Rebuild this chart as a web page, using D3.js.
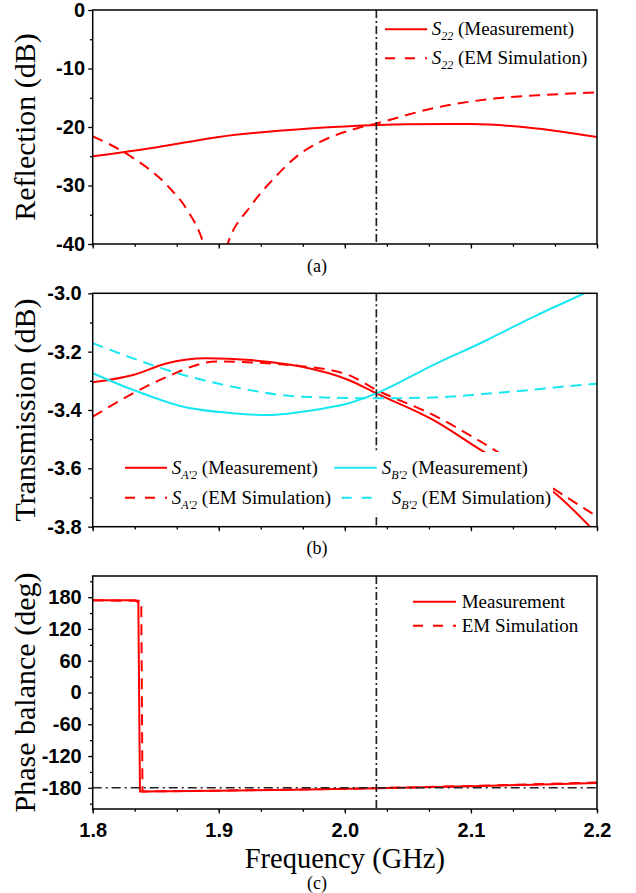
<!DOCTYPE html>
<html>
<head>
<meta charset="utf-8">
<script src="https://cdn.jsdelivr.net/npm/d3@7"></script>
<style>
body { margin: 0; background: #fff; }
</style>
</head>
<body>
<div id="chart"></div>
<script>
// frequency axis (GHz)
var xTicks = [1.8, 1.9, 2.0, 2.1, 2.2];
var xTickLabels = ["1.8", "1.9", "2.0", "2.1", "2.2"];
var markerFreq = 2.025;

// (a) reflection, dB
var reflTicks = [0, -10, -20, -30, -40];
var reflTickLabels = ["0", "-10", "-20", "-30", "-40"];
var s22MeasFreq = [1.80, 1.85, 1.90, 1.95, 2.00, 2.05, 2.10, 2.15, 2.20];
var s22Meas = [-25.0, -23.5, -21.7, -20.6, -19.9, -19.55, -19.5, -20.2, -21.7];
var s22SimFreq = [1.80, 1.83, 1.86, 1.875, 1.888, 1.897, 1.907, 1.925, 1.945, 1.965, 1.98, 2.01, 2.025, 2.07, 2.12, 2.16, 2.20];
var s22Sim = [-21.6, -25.0, -30.2, -34.2, -40, -48, -40, -33.6, -28.5, -24.5, -22.6, -20.2, -19.4, -16.8, -15.1, -14.5, -14.1];

// (b) transmission, dB
var transTicks = [-3.0, -3.2, -3.4, -3.6, -3.8];
var transTickLabels = ["-3.0", "-3.2", "-3.4", "-3.6", "-3.8"];
var sa2MeasFreq = [1.80, 1.832, 1.859, 1.89, 1.925, 1.964, 2.003, 2.025, 2.07, 2.11, 2.167, 2.20];
var sa2Meas = [-3.305, -3.28, -3.24, -3.223, -3.229, -3.25, -3.297, -3.343, -3.434, -3.543, -3.686, -3.825];
var sa2SimFreq = [1.80, 1.832, 1.859, 1.898, 1.964, 2.003, 2.025, 2.07, 2.11, 2.167, 2.196, 2.20];
var sa2Sim = [-3.423, -3.343, -3.286, -3.234, -3.249, -3.28, -3.331, -3.417, -3.514, -3.674, -3.754, -3.765];
var sb2MeasFreq = [1.80, 1.832, 1.872, 1.911, 1.938, 1.977, 2.003, 2.025, 2.07, 2.11, 2.15, 2.19, 2.20];
var sb2Meas = [-3.274, -3.331, -3.389, -3.411, -3.417, -3.399, -3.377, -3.343, -3.246, -3.166, -3.08, -3.0, -2.98];
var sb2SimFreq = [1.80, 1.832, 1.872, 1.911, 1.964, 2.025, 2.07, 2.122, 2.194, 2.20];
var sb2Sim = [-3.171, -3.223, -3.28, -3.32, -3.354, -3.36, -3.357, -3.341, -3.312, -3.31];

// (c) phase balance, deg
var phaseTicks = [180, 120, 60, 0, -60, -120, -180];
var phaseTickLabels = ["180", "120", "60", "0", "-60", "-120", "-180"];
var phaseRef = -180;
var phMeasFreq = [1.80, 1.834, 1.8362, 1.8375, 1.84, 1.90, 1.96, 2.025, 2.10, 2.15, 2.20];
var phMeas = [174, 174, 170, -187, -187, -185.5, -183.5, -181, -177, -174, -171];
var phSimFreq = [1.80, 1.8385, 1.8395, 1.90, 2.00, 2.10, 2.20];
var phSim = [174, 173, -187, -185.3, -182, -176.5, -170];

var width = 636, height = 893;
var left = 92.7, right = 597;
var red = "#ff0000", cyan = "#18e6f0";
var serif = "'Liberation Serif', 'Times New Roman', serif";
var sans = "'Liberation Sans', Arial, sans-serif";
var dashed = "11,7";

var svg = d3.select("#chart").append("svg")
  .attr("width", width)
  .attr("height", height);

var x = d3.scaleLinear().domain([1.8, 2.2]).range([left, right]);
var xMinor = d3.range(0, 13).map(k => 1.8 + k * 0.4 / 12);

function panel(o) {
  var y = d3.scaleLinear().domain(o.domain).range([o.bottom, o.top]);
  var g = svg.append("g");
  var id = "clip" + o.tag;

  g.append("clipPath").attr("id", id)
    .append("rect")
    .attr("x", left).attr("y", o.top)
    .attr("width", right - left).attr("height", o.bottom - o.top);

  var plot = g.append("g").attr("clip-path", "url(#" + id + ")");
  var line = d3.line().x(d => x(d[0])).y(d => y(d[1]));

  o.series.forEach(function (s) {
    plot.append("path")
      .datum(d3.zip(s.f, s.v))
      .attr("fill", "none")
      .attr("stroke", s.color)
      .attr("stroke-width", 2)
      .attr("stroke-dasharray", s.dash ? dashed : null)
      .attr("d", line.curve(s.step ? d3.curveLinear : d3.curveMonotoneX));
  });

  if (o.hline != null) {
    plot.append("line")
      .attr("x1", left).attr("x2", right)
      .attr("y1", y(o.hline)).attr("y2", y(o.hline))
      .attr("stroke", "#222").attr("stroke-width", 1.4)
      .attr("stroke-dasharray", "9,4,2,4");
  }

  // marker at 2.025 GHz
  plot.append("line")
    .attr("x1", x(markerFreq)).attr("x2", x(markerFreq))
    .attr("y1", o.top).attr("y2", o.bottom)
    .attr("stroke", "#222").attr("stroke-width", 1.7)
    .attr("stroke-dasharray", "8,3,2,3");

  // axes
  var yMajor = d3.axisLeft(y).tickValues(o.ticks).tickSize(4.5).tickPadding(o.pad)
    .tickFormat((d, i) => o.labels[i]);
  var yMin = d3.axisLeft(y).tickValues(o.minor).tickSize(2.7).tickFormat("");
  var xMaj = d3.axisBottom(x).tickValues(xTicks).tickSize(4.5).tickPadding(9.5)
    .tickFormat((d, i) => o.xLabels ? xTickLabels[i] : "");
  var xMin = d3.axisBottom(x).tickValues(xMinor).tickSize(2.7).tickFormat("");

  [yMajor, yMin].forEach(function (a) {
    g.append("g").attr("transform", "translate(" + left + ",0)").call(a);
  });
  [xMaj, xMin].forEach(function (a) {
    g.append("g").attr("transform", "translate(0," + o.bottom + ")").call(a);
  });
  g.selectAll(".domain").remove();
  g.selectAll(".tick line").attr("stroke", "#000").attr("stroke-width", 1.3);
  g.selectAll(".tick text")
    .attr("font-family", sans).attr("font-size", "20px").attr("font-weight", "bold")
    .attr("fill", "#000");

  g.append("rect")
    .attr("x", left).attr("y", o.top)
    .attr("width", right - left).attr("height", o.bottom - o.top)
    .attr("fill", "none").attr("stroke", "#000").attr("stroke-width", 1.5);

  g.append("text")
    .attr("transform", "translate(35," + (o.top + o.bottom) / 2 + ") rotate(-90)")
    .attr("text-anchor", "middle")
    .attr("font-family", serif).attr("font-size", "30px")
    .text(o.title);

  g.append("text")
    .attr("x", 317).attr("y", o.tagY)
    .attr("text-anchor", "middle")
    .attr("font-family", serif).attr("font-size", "18px")
    .text("(" + o.tag + ")");

  return g;
}

function legendItem(g, o) {
  g.append("line")
    .attr("x1", o.x1).attr("x2", o.x2).attr("y1", o.y).attr("y2", o.y)
    .attr("stroke", o.color).attr("stroke-width", 2)
    .attr("stroke-dasharray", o.dash ? "10,10" : null);
  var t = g.append("text")
    .attr("x", o.tx).attr("y", o.y + 6)
    .attr("font-family", serif).attr("font-size", "19px");
  if (o.sub) {
    t.append("tspan").attr("font-style", "italic").text("S");
    t.append("tspan").attr("font-style", "italic").attr("font-size", "12px")
      .attr("dy", 5).text(o.sub);
    t.append("tspan").attr("dy", -5).text(" " + o.text);
  } else {
    t.text(o.text);
  }
}

// (a)
var ga = panel({
  tag: "a", top: 10, bottom: 244, domain: [-40, 0],
  ticks: reflTicks, labels: reflTickLabels, minor: d3.range(-35, 0, 10), pad: 3.2,
  title: "Reflection (dB)", tagY: 272,
  series: [
    { f: s22MeasFreq, v: s22Meas, color: red },
    { f: s22SimFreq, v: s22Sim, color: red, dash: true }
  ]
});
legendItem(ga, { x1: 385, x2: 427, y: 29.3, tx: 431.7, color: red, sub: "22", text: "(Measurement)" });
legendItem(ga, { x1: 385, x2: 427, y: 58.3, tx: 431.7, color: red, dash: true, sub: "22", text: "(EM Simulation)" });

// (b)
var gb = panel({
  tag: "b", top: 293.3, bottom: 526.7, domain: [-3.8, -3.0],
  ticks: transTicks, labels: transTickLabels, minor: [-3.1, -3.3, -3.5, -3.7], pad: 6.5,
  title: "Transmission (dB)", tagY: 554,
  series: [
    { f: sa2MeasFreq, v: sa2Meas, color: red },
    { f: sa2SimFreq, v: sa2Sim, color: red, dash: true },
    { f: sb2MeasFreq, v: sb2Meas, color: cyan },
    { f: sb2SimFreq, v: sb2Sim, color: cyan, dash: true }
  ]
});
gb.append("rect").attr("x", 118).attr("y", 452).attr("width", 435).attr("height", 62).attr("fill", "#fff");
legendItem(gb, { x1: 125, x2: 167, y: 467.7, tx: 171.7, color: red, sub: "A'2", text: "(Measurement)" });
legendItem(gb, { x1: 125, x2: 167, y: 497.7, tx: 171.7, color: red, dash: true, sub: "A'2", text: "(EM Simulation)" });
legendItem(gb, { x1: 334.3, x2: 376.7, y: 467.7, tx: 381.7, color: cyan, sub: "B'2", text: "(Measurement)" });
legendItem(gb, { x1: 341.7, x2: 373, y: 497.7, tx: 391.7, color: cyan, dash: true, sub: "B'2", text: "(EM Simulation)" });

// (c)
var gc = panel({
  tag: "c", top: 576, bottom: 809, domain: [-220, 220],
  ticks: phaseTicks, labels: phaseTickLabels, minor: d3.range(-210, 220, 60), pad: 6.5,
  title: "Phase balance (deg)", tagY: 889, xLabels: true, hline: phaseRef,
  series: [
    { f: phMeasFreq, v: phMeas, color: red, step: true },
    { f: phSimFreq, v: phSim, color: red, dash: true, step: true }
  ]
});
legendItem(gc, { x1: 413, x2: 456, y: 601.7, tx: 461.7, color: red, text: "Measurement" });
legendItem(gc, { x1: 413, x2: 456, y: 625.7, tx: 461.7, color: red, dash: true, text: "EM Simulation" });

gc.append("text")
  .attr("x", (left + right) / 2).attr("y", 867.5)
  .attr("text-anchor", "middle")
  .attr("font-family", serif).attr("font-size", "28.5px")
  .text("Frequency (GHz)");
</script>
</body>
</html>
